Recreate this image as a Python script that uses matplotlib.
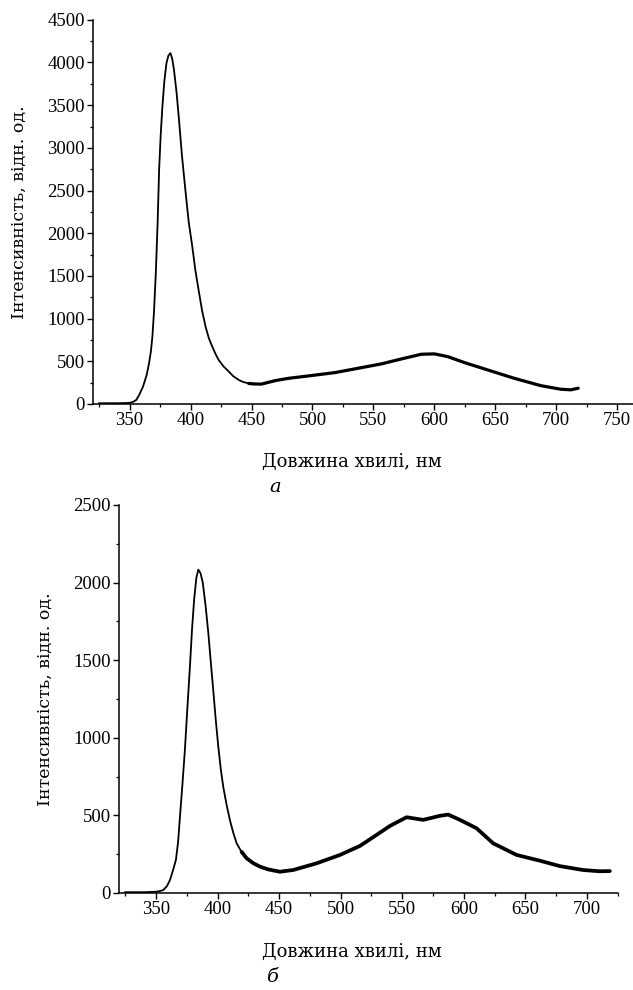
import matplotlib
matplotlib.use('Agg')
import matplotlib.pyplot as plt
from matplotlib.ticker import MultipleLocator

# spectrum (a)
wl_a = [325, 340, 350, 353, 355.5, 358, 361, 364, 366, 367.5, 368.7, 370, 371.5, 373,
        374.2, 375.5, 376.9, 378.5, 380.2, 381.8, 383.5, 385, 386.4, 388.5, 390.5,
        393, 396, 398.5, 401.4, 404, 407, 409.5, 412.3, 415, 417.8, 420.5, 423, 427,
        431.4, 435, 439.5, 443, 447.7, 452, 458, 469.5, 480.4, 496.7, 518.5, 537.6,
        556.6, 573, 589.3, 600.2, 611, 624.8, 643.8, 665.6, 687.4, 703.7, 712, 718]
int_a = [8, 8, 12, 25, 47, 110, 203, 340, 480, 620, 790, 1080, 1535, 2130,
         2742, 3150, 3485, 3780, 3990, 4080, 4110, 4040, 3915, 3650, 3330,
         2900, 2470, 2130, 1845, 1560, 1300, 1090, 906, 770, 672, 585, 516, 440,
         379, 325, 281, 258, 240, 234, 232, 273, 300, 328, 367, 418,
         469, 527, 582, 586, 554, 484, 398, 300, 214, 172, 165, 184]

# spectrum (b)
wl_b = [325, 340, 350, 353, 356, 359, 361.4, 364, 366.2, 368, 369.5, 371.5, 373.5,
        375.5, 377.6, 379.3, 381, 382.8, 384.4, 386.2, 388, 390.3, 392.5, 394.5,
        396.5, 398.5, 400.6, 402.6, 404.6, 407.3, 410, 412.7, 415.5, 419.5, 423.6,
        429, 434.4, 441, 450.6, 461.4, 480.4, 499.4, 515.6, 529.1, 540, 553.5, 567,
        580.5, 587.3, 596.8, 610.3, 623.8, 642.8, 661.7, 678, 696.8, 710, 718.5]
int_b = [5, 5, 8, 12, 19, 45, 84, 150, 213, 330, 492, 700, 922,
         1190, 1460, 1700, 1890, 2030, 2083, 2060, 2000, 1850, 1677, 1490,
         1309, 1120, 944, 800, 686, 570, 471, 390, 320, 265, 224,
         192, 170, 152, 137, 148, 191, 245, 303, 374, 432, 488, 471,
         497, 505, 471, 417, 320, 245, 208, 173, 148, 140, 141]

xlabel = 'Довжина хвилі, нм'
ylabel = 'Інтенсивність, відн. од.'

plt.rcParams['font.family'] = ['Liberation Serif', 'DejaVu Serif']
plt.rcParams['axes.linewidth'] = 1.1

fig = plt.figure(figsize=(6.33, 9.9), dpi=100)
ax_a = fig.add_axes([0.147, 0.592, 0.853, 0.388])
ax_b = fig.add_axes([0.188, 0.098, 0.788, 0.392])


def style(ax, xlim, ylim, ymajor):
    ax.set_xlim(*xlim)
    ax.set_ylim(*ylim)
    for s in ['top', 'right']:
        ax.spines[s].set_visible(False)
    ax.xaxis.set_major_locator(MultipleLocator(50))
    ax.xaxis.set_minor_locator(MultipleLocator(25))
    ax.yaxis.set_major_locator(MultipleLocator(ymajor))
    ax.yaxis.set_minor_locator(MultipleLocator(ymajor / 2))
    ax.tick_params(which='major', direction='out', length=4, width=1, labelsize=13.5, pad=2)
    ax.tick_params(which='minor', direction='out', length=2.5, width=0.9)
    ax.set_ylabel(ylabel, family='DejaVu Serif', fontsize=12.5, labelpad=14)


# thin line for the smooth UV peak, heavier line where the spectrum is noisy
ax_a.plot(wl_a, int_a, color='black', lw=1.3)
ax_a.plot(wl_a[42:], int_a[42:], color='black', lw=2.3, solid_capstyle='round')
style(ax_a, (320, 763), (0, 4500), 500)

ax_b.plot(wl_b, int_b, color='black', lw=1.3)
ax_b.plot(wl_b[33:], int_b[33:], color='black', lw=2.7, solid_capstyle='round')
style(ax_b, (320, 725), (0, 2500), 500)
ax_b.set_xticks(range(350, 701, 50))

fig.text(0.556, 0.533, xlabel, ha='center', va='center', family='DejaVu Serif', fontsize=13)
fig.text(0.435, 0.508, 'а', ha='center', va='center', family='DejaVu Serif',
         style='italic', fontsize=14)
fig.text(0.556, 0.038, xlabel, ha='center', va='center', family='DejaVu Serif', fontsize=13)
fig.text(0.43, 0.013, 'б', ha='center', va='center', family='DejaVu Serif',
         style='italic', fontsize=14)

fig.savefig('out.png', dpi=100)
